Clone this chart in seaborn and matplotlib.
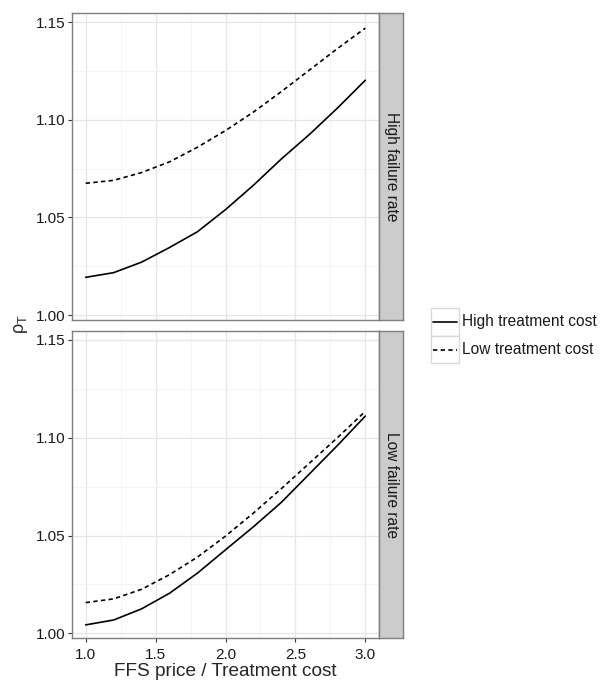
import numpy as np
import pandas as pd
import matplotlib
matplotlib.use('Agg')
import matplotlib.pyplot as plt
import seaborn as sns
from matplotlib.ticker import MultipleLocator
from matplotlib.lines import Line2D
from matplotlib.patches import Rectangle

# FFS price / treatment cost ratio
ratio = [1.0, 1.2, 1.4, 1.6, 1.8, 2.0, 2.2, 2.4, 2.6, 2.8, 3.0]

# rho_T, high failure rate
high_fail_high_cost = [1.0193, 1.0217, 1.0271, 1.0346, 1.0427, 1.0540, 1.0665,
                       1.0800, 1.0925, 1.1060, 1.1203]
high_fail_low_cost = [1.0675, 1.0690, 1.0730, 1.0785, 1.0860, 1.0945, 1.1040,
                      1.1145, 1.1255, 1.1365, 1.1470]

# rho_T, low failure rate
low_fail_high_cost = [1.0043, 1.0068, 1.0125, 1.0205, 1.0308, 1.0427, 1.0545,
                      1.0670, 1.0815, 1.0960, 1.1111]
low_fail_low_cost = [1.0157, 1.0176, 1.0225, 1.0300, 1.0390, 1.0497, 1.0615,
                     1.0740, 1.0870, 1.1000, 1.1135]

failure_levels = ['High failure rate', 'Low failure rate']
cost_levels = ['High treatment cost', 'Low treatment cost']

series = {
    ('High failure rate', 'High treatment cost'): high_fail_high_cost,
    ('High failure rate', 'Low treatment cost'): high_fail_low_cost,
    ('Low failure rate', 'High treatment cost'): low_fail_high_cost,
    ('Low failure rate', 'Low treatment cost'): low_fail_low_cost,
}
rows = []
for (fail, cost), vals in series.items():
    for x, y in zip(ratio, vals):
        rows.append({'ratio': x, 'rho': y, 'cost': cost, 'failure': fail})
df = pd.DataFrame(rows)

sns.set_style('white')
plt.rcParams['font.family'] = ['Liberation Sans', 'DejaVu Sans']

W, H = 601, 683
fig = plt.figure(figsize=(W / 100, H / 100), dpi=100)

def fx(px):
    return px / W

def fy(py):
    return 1 - py / H

panel_left, panel_right = 71.7, 379.3
strip_right = 403.0
panel_tops = [13.3, 331.0]
panel_bottoms = [320.0, 638.3]

dash_map = {'High treatment cost': '', 'Low treatment cost': (2.6, 2.0)}
grid_major = '#E6E6E6'
grid_minor = '#F3F3F3'
border = '#7F7F7F'

for i, fail in enumerate(failure_levels):
    top, bot = panel_tops[i], panel_bottoms[i]
    ax = fig.add_axes([fx(panel_left), fy(bot), fx(panel_right - panel_left),
                       (bot - top) / H])
    sub = df[df['failure'] == fail]
    sns.lineplot(data=sub, x='ratio', y='rho', style='cost', style_order=cost_levels,
                 dashes=dash_map, color='black', linewidth=1.2, legend=False, ax=ax)
    ax.set_xlim(0.9, 3.1)
    ax.set_ylim(0.99744, 1.1546)
    ax.xaxis.set_major_locator(MultipleLocator(0.5))
    ax.xaxis.set_minor_locator(MultipleLocator(0.25))
    ax.yaxis.set_major_locator(MultipleLocator(0.05))
    ax.yaxis.set_minor_locator(MultipleLocator(0.025))
    ax.yaxis.set_major_formatter(matplotlib.ticker.FormatStrFormatter('%.2f'))
    ax.xaxis.set_major_formatter(matplotlib.ticker.FormatStrFormatter('%.1f'))
    ax.grid(which='major', color=grid_major, linewidth=0.9)
    ax.grid(which='minor', color=grid_minor, linewidth=0.6)
    ax.set_axisbelow(True)
    for s in ax.spines.values():
        s.set_color(border)
        s.set_linewidth(1.0)
    ax.tick_params(which='major', length=3, width=0.8, color='#333333',
                   labelsize=11, labelcolor='#1a1a1a', pad=1.5)
    ax.tick_params(axis='x', pad=4)
    ax.tick_params(which='minor', length=0)
    ax.tick_params(axis='x', bottom=True)
    ax.tick_params(axis='y', left=True)
    ax.set_xlabel('')
    ax.set_ylabel('')
    if i == 0:
        ax.tick_params(axis='x', labelbottom=False, bottom=False)
    else:
        ax.set_xlabel('FFS price / Treatment cost', fontsize=13.7, labelpad=1)

    # facet strip on the right
    sax = fig.add_axes([fx(panel_right), fy(bot), fx(strip_right - panel_right),
                        (bot - top) / H])
    sax.set_facecolor('#CCCCCC')
    sax.set_xticks([])
    sax.set_yticks([])
    for s in sax.spines.values():
        s.set_color(border)
        s.set_linewidth(1.0)
    sax.text(0.5, 0.5, fail, rotation=270, ha='center', va='center',
             fontsize=11.2, color='#1a1a1a', transform=sax.transAxes)

fig.text(fx(21), fy(324), r'ρ$_{\mathregular{T}}$', rotation=90, ha='center',
         va='center', fontsize=13)

# legend with ggplot-style key boxes
key_x0, key_x1 = 430.7, 459.3
key_tops = [308.0, 335.7]
key_h = 27.7
for j, cost in enumerate(cost_levels):
    t = key_tops[j]
    fig.patches.append(Rectangle((fx(key_x0), fy(t + key_h)), fx(key_x1 - key_x0),
                                 key_h / H, transform=fig.transFigure,
                                 facecolor='white', edgecolor='#D9D9D9', linewidth=1.0))
    yc = fy(t + key_h / 2)
    ls = '-' if dash_map[cost] == '' else (0, dash_map[cost])
    fig.lines.append(Line2D([fx(key_x0 + 2.5), fx(key_x1 - 2.5)], [yc, yc],
                            transform=fig.transFigure, color='black',
                            linewidth=1.2, linestyle=ls))
    fig.text(fx(461.5), yc, cost, ha='left', va='center', fontsize=11.2,
             color='#1a1a1a')

fig.savefig('out.png', dpi=100)
